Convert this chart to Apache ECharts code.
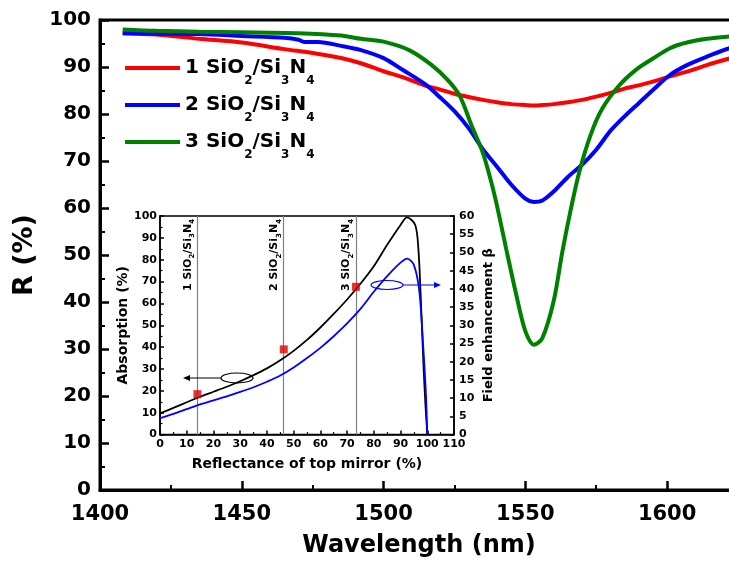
<!DOCTYPE html>
<html><head><meta charset="utf-8">
<script src="https://cdn.jsdelivr.net/npm/echarts@6/dist/echarts.min.js"></script>
<style>html,body{margin:0;padding:0;background:#fff}#c{width:729px;height:564px}</style>
</head><body><div id="c"></div>
<script>
const FONT = 'DejaVu Sans';
const seriesNames = ['1 SiO2/Si3N4', '2 SiO2/Si3N4', '3 SiO2/Si3N4'];
const seriesColors = ['#ff0000', '#0000ff', '#008000'];

// Main plot: reflectance spectra (wavelength nm, R %)
const redWl = [1408,1420,1435,1450,1465,1475,1485,1492,1500,1507,1515,1520,1525,1530,1535,1540,1545,1550,1553,1556,1560,1565,1570,1575,1580,1585,1590,1595,1601,1607,1614,1622,1626];
const redR  = [97.2,96.9,96.0,95.2,93.8,93.0,91.9,90.8,89.1,87.8,86.0,85.2,84.3,83.6,83.0,82.5,82.1,81.9,81.8,81.9,82.1,82.5,83.0,83.7,84.5,85.4,86.1,86.9,88.0,89.0,90.4,91.8,92.4];

const blueWl = [1408,1420,1435,1450,1465,1470,1472,1477,1485,1492,1500,1507,1515,1520,1525,1530,1535,1540,1545,1550,1553,1556,1560,1565,1570,1575,1580,1585,1590,1595,1601,1607,1614,1622,1626];
const blueR  = [97.2,97.1,97.0,96.6,96.2,95.8,95.3,95.3,94.5,93.6,91.9,89.3,86.2,83.5,80.6,77.0,72.5,68.8,65.0,62.0,61.3,61.6,63.5,66.6,69.2,72.4,76.4,79.5,82.3,85.1,88.3,90.4,92.2,94.0,94.6];

const greenWl = [1408,1420,1435,1450,1470,1485,1492,1500,1509,1517,1523,1527,1531,1535,1538,1540,1543,1547,1550,1553,1556,1560,1563,1566,1569,1573,1577,1583,1589,1595,1601,1607,1614,1622,1626];
const greenR  = [98.0,97.7,97.5,97.4,97.2,96.7,96.0,95.4,93.6,90.4,87.0,83.7,77.6,71.8,65.5,60.5,52.0,41.0,33.8,30.9,32.3,40.2,50.5,59.6,67.6,75.5,81.0,86.0,89.4,91.8,94.0,95.2,96.0,96.5,96.7];

// Inset: absorption (left axis) and field enhancement (right axis) vs reflectance of top mirror
const absRefl = [0,5,10,15,20,25,30,35,40,45,50,55,60,65,70,75,80,85,90,92.4,95.5,96.7,97.6,98.6,99.3,100];
const absVal  = [9.7,12.2,14.8,17.3,19.6,21.9,24.4,27.2,30.3,34.0,38.3,43.3,49.0,55.2,61.8,69.0,77.0,86.8,95.9,99.4,95.9,84.4,61.6,31.1,14.0,0];
const betaRefl = [0,5,10,15,20,25,30,35,40,45,50,55,60,65,70,75,80,85,90,92.5,95,97,98.5,99.5,100];
const betaVal  = [4.5,5.7,7.0,8.3,9.4,10.5,11.7,13.0,14.5,16.2,18.4,21.0,23.8,27.0,30.5,34.5,39.2,43.5,47.2,48.3,46.5,39.5,24.0,11.0,0];
const sampleRefl = [14, 46.3, 73.3];
const sampleAbs = [18.5, 39.0, 67.6];
const sampleNames = ['1 SiO2/Si3N4', '2 SiO2/Si3N4', '3 SiO2/Si3N4'];

const xTicksMain = {min: 1400, max: 1625, interval: 50};
const yTicksMain = {min: 0, max: 100, interval: 10};

function pairs(xs, ys) { return xs.map((x, i) => [x, ys[i]]); }
function richName(n) {
  return n.replace('O2', 'O{s|2}').replace('i3', 'i{s|3}').replace('N4', 'N{s|4}');
}
const plain = v => String(v);

const chart = echarts.init(document.getElementById('c'), null, {renderer: 'canvas'});

const mainAxisLine = {lineStyle: {color: '#000', width: 3}};
const insetAxisLine = {lineStyle: {color: '#000', width: 1.5}};

const option = {
  backgroundColor: '#fff',
  animation: false,
  grid: [
    {left: 100, top: 20, width: 638, height: 470, show: true, borderColor: '#000', borderWidth: 3, backgroundColor: 'transparent', outerBoundsMode: 'none', containLabel: false},
    {left: 160, top: 216, width: 294, height: 218.6, show: true, borderColor: '#000', borderWidth: 1.5, backgroundColor: 'transparent', outerBoundsMode: 'none', containLabel: false}
  ],
  legend: {
    data: seriesNames,
    orient: 'vertical',
    left: 125, top: 49, padding: 0,
    icon: 'rect',
    itemWidth: 55, itemHeight: 4, itemGap: -1,
    selectedMode: false,
    formatter: richName,
    textStyle: {
      fontFamily: FONT, fontWeight: 'bold', fontSize: 20, color: '#000', lineHeight: 24,
      rich: {s: {fontFamily: FONT, fontWeight: 'bold', fontSize: 12, lineHeight: 2, padding: [26, 0, 0, 0], color: '#000'}}
    }
  },
  xAxis: [
    {
      gridIndex: 0, type: 'value', min: xTicksMain.min, max: xTicksMain.max, interval: xTicksMain.interval,
      name: 'Wavelength (nm)', nameLocation: 'middle', nameGap: 44,
      nameTextStyle: {fontFamily: FONT, fontWeight: 'bold', fontSize: 24, color: '#000'},
      axisLine: mainAxisLine,
      axisTick: {inside: true, length: 9, lineStyle: {width: 2.5, color: '#000'}},
      minorTick: {show: true, splitNumber: 2, length: 5, lineStyle: {width: 2, color: '#000'}},
      axisLabel: {fontFamily: FONT, fontWeight: 'bold', fontSize: 21, color: '#000', margin: 14, formatter: plain, showMaxLabel: false},
      splitLine: {show: false}
    },
    {
      gridIndex: 1, type: 'value', min: 0, max: 110, interval: 10,
      name: 'Reflectance of top mirror (%)', nameLocation: 'middle', nameGap: 23,
      nameTextStyle: {fontFamily: FONT, fontWeight: 'bold', fontSize: 14, color: '#000'},
      axisLine: insetAxisLine,
      axisTick: {inside: true, length: 4, lineStyle: {width: 1.5, color: '#000'}},
      minorTick: {show: true, splitNumber: 2, length: 2.5, lineStyle: {width: 1.2, color: '#000'}},
      axisLabel: {fontFamily: FONT, fontWeight: 'bold', fontSize: 11, color: '#000', margin: 4, formatter: plain},
      splitLine: {show: false}
    }
  ],
  yAxis: [
    {
      gridIndex: 0, type: 'value', min: yTicksMain.min, max: yTicksMain.max, interval: yTicksMain.interval,
      name: 'R (%)', nameLocation: 'middle', nameGap: 51, nameRotate: 90,
      nameTextStyle: {fontFamily: FONT, fontWeight: 'bold', fontSize: 27, color: '#000'},
      axisLine: mainAxisLine,
      axisTick: {inside: true, length: 9, lineStyle: {width: 2.5, color: '#000'}},
      minorTick: {show: true, splitNumber: 2, length: 5, lineStyle: {width: 2, color: '#000'}},
      axisLabel: {fontFamily: FONT, fontWeight: 'bold', fontSize: 20, color: '#000', margin: 9, formatter: plain},
      splitLine: {show: false}
    },
    {
      gridIndex: 1, type: 'value', min: 0, max: 100, interval: 10, position: 'left',
      name: 'Absorption (%)', nameLocation: 'middle', nameGap: 26, nameRotate: 90,
      nameTextStyle: {fontFamily: FONT, fontWeight: 'bold', fontSize: 14, color: '#000'},
      axisLine: insetAxisLine,
      axisTick: {inside: true, length: 4, lineStyle: {width: 1.5, color: '#000'}},
      minorTick: {show: true, splitNumber: 2, length: 2.5, lineStyle: {width: 1.2, color: '#000'}},
      axisLabel: {fontFamily: FONT, fontWeight: 'bold', fontSize: 11, color: '#000', margin: 3, formatter: plain},
      splitLine: {show: false}
    },
    {
      gridIndex: 1, type: 'value', min: 0, max: 60, interval: 5, position: 'right',
      name: 'Field enhancement β', nameLocation: 'middle', nameGap: 28, nameRotate: 90,
      nameTextStyle: {fontFamily: FONT, fontWeight: 'bold', fontSize: 13, color: '#000'},
      axisLine: insetAxisLine,
      axisTick: {inside: true, length: 4, lineStyle: {width: 1.5, color: '#000'}},
      minorTick: {show: false},
      axisLabel: {fontFamily: FONT, fontWeight: 'bold', fontSize: 11, color: '#000', margin: 5, formatter: plain},
      splitLine: {show: false}
    }
  ],
  series: [
    {name: seriesNames[0], type: 'line', xAxisIndex: 0, yAxisIndex: 0, data: pairs(redWl, redR), smooth: 0.3, symbol: 'none', showSymbol: false, lineStyle: {color: seriesColors[0], width: 4}, itemStyle: {color: seriesColors[0]}, z: 3},
    {name: seriesNames[1], type: 'line', xAxisIndex: 0, yAxisIndex: 0, data: pairs(blueWl, blueR), smooth: 0.3, symbol: 'none', showSymbol: false, lineStyle: {color: seriesColors[1], width: 4}, itemStyle: {color: seriesColors[1]}, z: 3},
    {name: seriesNames[2], type: 'line', xAxisIndex: 0, yAxisIndex: 0, data: pairs(greenWl, greenR), smooth: 0.3, symbol: 'none', showSymbol: false, lineStyle: {color: seriesColors[2], width: 4}, itemStyle: {color: seriesColors[2]}, z: 3},
    {
      name: 'Absorption', type: 'line', xAxisIndex: 1, yAxisIndex: 1, data: pairs(absRefl, absVal),
      smooth: 0.3, symbol: 'none', lineStyle: {color: '#000', width: 1.8}, z: 5,
      markLine: {
        silent: true, symbol: 'none', animation: false,
        lineStyle: {color: '#808080', width: 1.2, type: 'solid'},
        label: {
          show: true, position: 'insideEndTop', distance: 3,
          formatter: p => richName(p.name),
          fontFamily: FONT, fontWeight: 'bold', fontSize: 11, color: '#000', lineHeight: 13,
          rich: {s: {fontFamily: FONT, fontWeight: 'bold', fontSize: 7, lineHeight: 1, padding: [9, 0, 0, 0], color: '#000'}}
        },
        data: sampleRefl.map((x, i) => ({xAxis: x, name: sampleNames[i]}))
      }
    },
    {
      name: 'Field enhancement', type: 'line', xAxisIndex: 1, yAxisIndex: 2, data: pairs(betaRefl, betaVal),
      smooth: 0.3, symbol: 'none', lineStyle: {color: '#0000ff', width: 1.8}, z: 5
    },
    {
      name: 'Samples', type: 'scatter', xAxisIndex: 1, yAxisIndex: 1, data: pairs(sampleRefl, sampleAbs),
      symbol: 'rect', symbolSize: 8, itemStyle: {color: '#e00000'}, z: 6
    }
  ],
  graphic: [
    {type: 'ellipse', shape: {cx: 237, cy: 378, rx: 16, ry: 5}, style: {fill: 'none', stroke: '#000', lineWidth: 1.2}, z: 10},
    {type: 'line', shape: {x1: 221, y1: 378, x2: 187, y2: 378}, style: {stroke: '#000', lineWidth: 1.2}, z: 10},
    {type: 'polygon', shape: {points: [[183, 378], [190, 375], [190, 381]]}, style: {fill: '#000'}, z: 10},
    {type: 'ellipse', shape: {cx: 387, cy: 285, rx: 16, ry: 4.5}, style: {fill: 'none', stroke: '#0000ff', lineWidth: 1.2}, z: 10},
    {type: 'line', shape: {x1: 403, y1: 285, x2: 437, y2: 285}, style: {stroke: '#0000ff', lineWidth: 1.2}, z: 10},
    {type: 'polygon', shape: {points: [[441, 285], [434, 282], [434, 288]]}, style: {fill: '#0000ff'}, z: 10}
  ]
};
chart.setOption(option);
</script>
</body></html>
